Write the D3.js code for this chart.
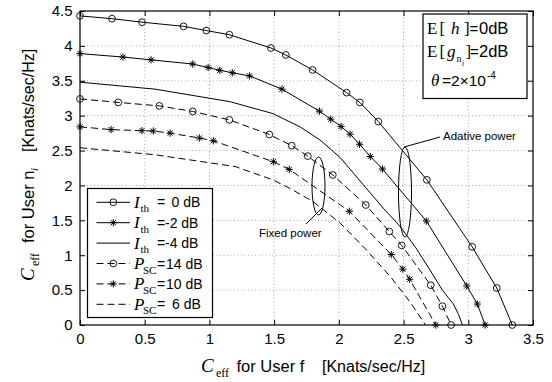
<!DOCTYPE html>
<html><head><meta charset="utf-8">
<script src="https://cdn.jsdelivr.net/npm/d3@7"></script>
<style>body{margin:0;background:#fff}</style>
</head><body>
<svg id="c" width="552" height="382"></svg>
<script>
const xTicks = [0,0.5,1,1.5,2,2.5,3,3.5];
const xTickLabels = ["0","0.5","1","1.5","2","2.5","3","3.5"];
const yTicks = [0,0.5,1,1.5,2,2.5,3,3.5,4,4.5];
const yTickLabels = ["0","0.5","1","1.5","2","2.5","3","3.5","4","4.5"];

const ith0 = [[0,4.43],[0.247,4.39],[0.479,4.34],[0.80,4.28],[0.976,4.22],[1.154,4.16],[1.475,3.97],[1.59,3.87],[1.797,3.655],[2.06,3.33],[2.162,3.19],[2.305,2.915],[2.68,2.08],[3.03,1.12],[3.22,0.53],[3.34,0]];
const ith2 = [[0,3.89],[0.332,3.84],[0.549,3.80],[0.871,3.74],[0.99,3.69],[1.08,3.65],[1.177,3.615],[1.31,3.57],[1.56,3.38],[1.85,3.065],[1.937,2.95],[2.017,2.845],[2.087,2.735],[2.16,2.59],[2.243,2.415],[2.337,2.235],[2.676,1.49],[2.988,0.56],[3.07,0.30],[3.13,0]];
const ith4 = [[0,3.48],[0.58,3.38],[1.16,3.20],[1.49,3.03],[1.70,2.84],[1.855,2.65],[2.01,2.40],[2.12,2.16],[2.23,1.92],[2.35,1.66],[2.47,1.42],[2.59,1.12],[2.70,0.80],[2.80,0.50],[2.885,0.30],[2.925,0.15],[2.955,0]];
const psc14 = [[0,3.24],[0.296,3.19],[0.613,3.14],[0.871,3.06],[1.154,2.94],[1.463,2.73],[1.636,2.57],[1.76,2.42],[1.953,2.15],[2.208,1.72],[2.39,1.34],[2.486,1.14],[2.71,0.57],[2.80,0.27],[2.867,0]];
const psc10 = [[0,2.84],[0.24,2.80],[0.479,2.785],[0.566,2.78],[0.696,2.75],[0.922,2.68],[1.03,2.64],[1.494,2.34],[1.617,2.23],[2.081,1.63],[2.405,1.01],[2.494,0.80],[2.547,0.655],[2.749,0]];
const psc6 = [[0,2.54],[0.58,2.44],[1.2,2.27],[1.49,2.08],[1.62,1.96],[1.80,1.77],[2.01,1.46],[2.2,1.10],[2.40,0.69],[2.55,0.33],[2.67,0]];

const seriesNames = ["ith0","ith2","ith4","psc14","psc10","psc6"];
const seriesData = [ith0, ith2, ith4, psc14, psc10, psc6];
const seriesMarker = ["o","*","","o","*",""];
const seriesDashed = [false,false,false,true,true,true];
const legendSym = ["I","I","I","P","P","P"];
const legendSub = ["th","th","th","SC","SC","SC"];
const legendVal = ["0 dB","-2 dB","-4 dB","14 dB","10 dB","6 dB"];

const svg = d3.select("#c");
const L=80,R=533,T=11,B=325;
const x = d3.scaleLinear().domain([0,3.5]).range([L,R]);
const y = d3.scaleLinear().domain([0,4.5]).range([B,T]);
const sans = "'Liberation Sans', Arial, Helvetica, sans-serif";
const serif = "'Liberation Serif', 'Times New Roman', serif";

// grid
const g = svg.append("g");
g.selectAll(".gx").data(xTicks.slice(1,-1)).enter().append("line")
  .attr("x1",d=>x(d)).attr("x2",d=>x(d)).attr("y1",T).attr("y2",B)
  .attr("stroke","#a8a8a8").attr("stroke-width",1).attr("stroke-dasharray","1,2.5");
g.selectAll(".gy").data(yTicks.slice(1,-1)).enter().append("line")
  .attr("y1",d=>y(d)).attr("y2",d=>y(d)).attr("x1",L).attr("x2",R)
  .attr("stroke","#a8a8a8").attr("stroke-width",1).attr("stroke-dasharray","1,2.5");

// axes with inward ticks
const xAxisB = d3.axisBottom(x).tickValues(xTicks).tickSize(-5).tickFormat((d,i)=>xTickLabels[i]).tickPadding(8);
const xAxisT = d3.axisTop(x).tickValues(xTicks).tickSize(-5).tickFormat("");
const yAxisL = d3.axisLeft(y).tickValues(yTicks).tickSize(-5).tickFormat((d,i)=>yTickLabels[i]).tickPadding(7.5);
const yAxisR = d3.axisRight(y).tickValues(yTicks).tickSize(-5).tickFormat("");
function styleAx(s){ s.select(".domain").remove(); s.selectAll("line").attr("stroke","#000");
  s.selectAll("text").attr("font-family",sans).attr("font-size","15px").attr("fill","#000"); }
svg.append("g").attr("transform",`translate(0,${B})`).call(xAxisB).call(styleAx);
svg.append("g").attr("transform",`translate(0,${T})`).call(xAxisT).call(styleAx);
svg.append("g").attr("transform",`translate(${L},0)`).call(yAxisL).call(styleAx);
svg.append("g").attr("transform",`translate(${R},0)`).call(yAxisR).call(styleAx);
svg.append("rect").attr("x",L).attr("y",T).attr("width",R-L).attr("height",B-T)
  .attr("fill","none").attr("stroke","#000").attr("stroke-width",1.2);

// series
const line = d3.line().x(d=>x(d[0])).y(d=>y(d[1]));
function starPath(s){ const k=s*0.72;
  return `M${-s},0L${s},0M0,${-s}L0,${s}M${-k},${-k}L${k},${k}M${-k},${k}L${k},${-k}`; }
function drawMarker(sel, type, cx, cy){
  if(type==="o") sel.append("circle").attr("cx",cx).attr("cy",cy).attr("r",3.4)
     .attr("fill","none").attr("stroke","#000").attr("stroke-width",0.9);
  else if(type==="*") sel.append("path").attr("d",starPath(3.6)).attr("transform",`translate(${cx},${cy})`)
     .attr("fill","none").attr("stroke","#000").attr("stroke-width",1);
}
const plot = svg.append("g");
seriesData.forEach((data,i)=>{
  plot.append("path").datum(data).attr("d",line).attr("fill","none").attr("stroke","#000")
    .attr("stroke-width",1).attr("stroke-dasharray",seriesDashed[i]?"7,4":null);
  if(seriesMarker[i]) data.forEach(d=>drawMarker(plot, seriesMarker[i], x(d[0]), y(d[1])));
});

// annotations
const ann = svg.append("g").attr("fill","none").attr("stroke","#000").attr("stroke-width",1);
ann.append("ellipse").attr("cx",318.5).attr("cy",186).attr("rx",6.5).attr("ry",29);
ann.append("line").attr("x1",322).attr("y1",208).attr("x2",306).attr("y2",224);
ann.append("ellipse").attr("cx",405).attr("cy",192).attr("rx",6.5).attr("ry",45);
ann.append("line").attr("x1",404).attr("y1",147).attr("x2",440).attr("y2",137);
svg.append("text").attr("x",259).attr("y",237).attr("font-family",sans).attr("font-size","11.5px").text("Fixed power");
svg.append("text").attr("x",443).attr("y",140).attr("font-family",sans).attr("font-size","11.5px").text("Adative power");

// legend
const lg = svg.append("g");
lg.append("rect").attr("x",87.5).attr("y",188.5).attr("width",125).attr("height",129)
  .attr("fill","#fff").attr("stroke","#000").attr("stroke-width",1.2);
const valX = [171.5,165,165,166,166,172];
seriesNames.forEach((n,i)=>{
  const cy = 202.3 + i*20.4;
  lg.append("line").attr("x1",96.5).attr("x2",130).attr("y1",cy).attr("y2",cy)
    .attr("stroke","#000").attr("stroke-width",1).attr("stroke-dasharray",seriesDashed[i]?"7,4":null);
  if(seriesMarker[i]) drawMarker(lg, seriesMarker[i], 113.3, cy);
  lg.append("text").attr("x",134).attr("y",cy+5.5).attr("font-family",serif).attr("font-style","italic")
    .attr("font-size","17px").text(legendSym[i]);
  lg.append("text").attr("x",legendSym[i]==="I"?140.5:143).attr("y",cy+10).attr("font-family",serif)
    .attr("font-size","11px").text(legendSub[i]);
  lg.append("text").attr("x",157).attr("y",cy+5).attr("font-family",sans).attr("font-size","14px").text("=");
  lg.append("text").attr("x",valX[i]).attr("y",cy+5).attr("font-family",sans).attr("font-size","14px").text(legendVal[i]);
});

// info box
const ib = svg.append("g");
ib.append("rect").attr("x",423).attr("y",14).attr("width",104).attr("height",84.5)
  .attr("fill","#fff").attr("stroke","#000").attr("stroke-width",1.2);
function t(xp,yp,txt,fam,size,style){ ib.append("text").attr("x",xp).attr("y",yp).attr("font-family",fam)
  .attr("font-size",size+"px").attr("font-style",style||"normal").text(txt); }
t(427,34,"E",serif,17); t(439.5,34,"[",serif,17); t(451,34,"h",serif,17,"italic"); t(464,34,"]",serif,17);
t(469.5,34,"=",sans,15); t(479,34,"0dB",sans,16.5);
t(427,57,"E",serif,17); t(439.5,57,"[",serif,17); t(447,57,"g",serif,17,"italic");
t(456.5,62,"n",serif,10); t(462,65.5,"i",serif,7.5,"italic"); t(465.5,57,"]",serif,17);
t(470,57,"=",sans,15); t(479,57,"2dB",sans,16.5);
t(431,86,"θ",serif,17,"italic"); t(442,86,"=2×10",sans,15.5); t(487,79,"-4",sans,10);

// axis labels
const xl = svg.append("g");
xl.append("text").attr("x",201).attr("y",372).attr("font-family",serif).attr("font-style","italic").attr("font-size","19px").text("C");
xl.append("text").attr("x",216).attr("y",377).attr("font-family",serif).attr("font-size","12px").text("eff");
xl.append("text").attr("x",236.5).attr("y",372).attr("font-family",sans).attr("font-size","16.5px").text("for User f");
xl.append("text").attr("x",322).attr("y",372).attr("font-family",sans).attr("font-size","16px").text("[Knats/sec/Hz]");

const yl = svg.append("g").attr("transform","translate(33.5,281) rotate(-90)");
yl.append("text").attr("x",0).attr("y",0).attr("font-family",serif).attr("font-style","italic").attr("font-size","19px").text("C");
yl.append("text").attr("x",15).attr("y",5).attr("font-family",serif).attr("font-size","12px").text("eff");
yl.append("text").attr("x",38).attr("y",0).attr("font-family",sans).attr("font-size","16.5px").text("for User n");
yl.append("text").attr("x",110).attr("y",4.5).attr("font-family",serif).attr("font-style","italic").attr("font-size","11px").text("i");
yl.append("text").attr("x",129).attr("y",0).attr("font-family",sans).attr("font-size","16px").text("[Knats/sec/Hz]");
</script>
</body></html>
